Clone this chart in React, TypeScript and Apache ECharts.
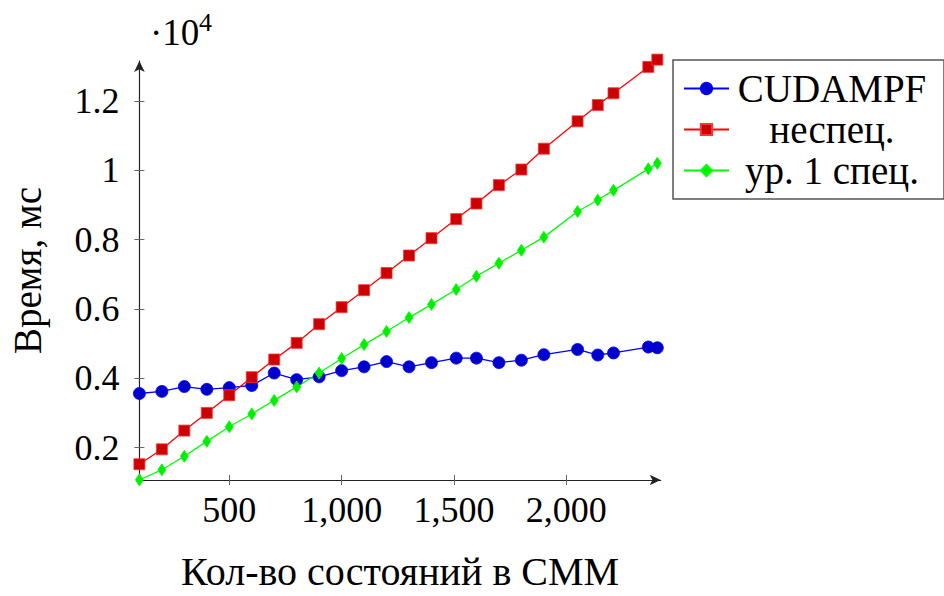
import React, { useEffect, useRef } from 'react';
import * as echarts from 'echarts';

const states = [100, 200, 300, 400, 500, 600, 700, 800, 900, 1000, 1100, 1200, 1300, 1400, 1510, 1600, 1700, 1800, 1900, 2050, 2140, 2210, 2365, 2405];
const cudampf = [3560, 3620, 3760, 3680, 3730, 3790, 4150, 3960, 4040, 4220, 4330, 4480, 4330, 4450, 4580, 4580, 4450, 4520, 4680, 4830, 4670, 4730, 4900, 4880];
const unspec = [1520, 1950, 2490, 3000, 3510, 4030, 4540, 5020, 5560, 6050, 6540, 7035, 7540, 8040, 8590, 9040, 9570, 10020, 10620, 11410, 11880, 12220, 12980, 13190];
const spec1 = [1070, 1360, 1750, 2180, 2600, 2970, 3360, 3750, 4150, 4570, 4970, 5350, 5750, 6130, 6560, 6940, 7320, 7690, 8070, 8810, 9140, 9420, 10040, 10200];
const seriesNames = ['CUDAMPF', 'неспец.', 'ур. 1 спец.'];
const xTicks = [500, 1000, 1500, 2000];
const yTicks = [2000, 4000, 6000, 8000, 10000, 12000];
const xMin = 100, xMax = 2420, yMin = 1065, yMax = 13150;

export default function App() {
  const ref = useRef<HTMLDivElement>(null);
  useEffect(() => {
    const chart = echarts.init(ref.current!, null, { renderer: 'svg' });
    const font = 'Liberation Serif';
    const pair = (ys: number[]) => states.map((x, i) => [x, ys[i]]);
    const tickStyle = { color: '#666', width: 1 };
    chart.setOption({
      animation: false,
      backgroundColor: '#fff',
      textStyle: { fontFamily: font, color: '#000' },
      grid: { left: 139.4, top: 61, width: 521.3, height: 429, containLabel: false },
      xAxis: [
        {
          type: 'value', min: xMin, max: xMax,
          axisLine: { show: true, lineStyle: { color: '#222', width: 1.2 }, symbol: ['none', 'arrow'], symbolSize: [8, 11] },
          axisTick: { show: true, customValues: xTicks, length: 5, lineStyle: tickStyle },
          axisLabel: { show: true, customValues: xTicks, formatter: (v: number) => v.toLocaleString('en-US'), fontSize: 36, fontFamily: font, color: '#000', margin: 12 },
          splitLine: { show: false },
          name: 'Кол-во состояний в СММ', nameLocation: 'middle', nameGap: 71,
          nameTextStyle: { fontSize: 40, fontFamily: font, color: '#000' },
        },
        {
          type: 'value', min: xMin, max: xMax, position: 'bottom', offset: 0,
          axisLine: { show: false },
          axisTick: { show: true, inside: true, customValues: xTicks, length: 5, lineStyle: tickStyle },
          axisLabel: { show: false },
          splitLine: { show: false },
        },
      ],
      yAxis: [
        {
          type: 'value', min: yMin, max: yMax,
          axisLine: { show: true, lineStyle: { color: '#222', width: 1.2 }, symbol: ['none', 'arrow'], symbolSize: [8, 11] },
          axisTick: { show: true, customValues: yTicks, length: 5, lineStyle: tickStyle },
          axisLabel: { show: true, customValues: yTicks, formatter: (v: number) => String(v / 10000), fontSize: 36, fontFamily: font, color: '#000', margin: 20 },
          splitLine: { show: false },
          name: 'Время, мс', nameLocation: 'middle', nameGap: 92, nameRotate: 90,
          nameTextStyle: { fontSize: 39, fontFamily: font, color: '#000' },
        },
        {
          type: 'value', min: yMin, max: yMax, position: 'left', offset: 0,
          axisLine: { show: false },
          axisTick: { show: true, inside: true, customValues: yTicks, length: 5, lineStyle: tickStyle },
          axisLabel: { show: false },
          splitLine: { show: false },
        },
      ],
      legend: {
        orient: 'vertical', left: 673, top: 60,
        padding: [9, 14, 9, 10], itemGap: 2, itemWidth: 45, itemHeight: 14,
        borderColor: '#555', borderWidth: 1.5, backgroundColor: '#fff',
        selectedMode: false,
        data: seriesNames,
        formatter: (name: string) => `{c|${name}}`,
        textStyle: {
          fontFamily: font, fontSize: 39, color: '#000', lineHeight: 36,
          rich: { c: { width: 196, align: 'center', fontSize: 39, fontFamily: font, lineHeight: 36, color: '#000' } },
        },
      },
      graphic: [
        { type: 'text', left: 150, top: 14, style: { text: '·10', fontSize: 37, fontFamily: font, fill: '#000' } },
        { type: 'text', left: 199, top: 9, style: { text: '4', fontSize: 26, fontFamily: font, fill: '#000' } },
      ],
      series: [
        {
          type: 'line', name: seriesNames[0], data: pair(cudampf), clip: false,
          symbol: 'circle', symbolSize: 12,
          lineStyle: { color: '#0000ff', width: 1.3 },
          itemStyle: { color: '#0000cc', borderColor: '#0000ff', borderWidth: 0.8 },
        },
        {
          type: 'line', name: seriesNames[1], data: pair(unspec), clip: false,
          symbol: 'rect', symbolSize: 11,
          lineStyle: { color: '#ff0000', width: 1.3 },
          itemStyle: { color: '#cc0000', borderColor: '#ff3333', borderWidth: 0.8 },
        },
        {
          type: 'line', name: seriesNames[2], data: pair(spec1), clip: false,
          symbol: 'diamond', symbolSize: [8, 12],
          lineStyle: { color: '#00ff00', width: 1.3 },
          itemStyle: { color: '#00ee00', borderColor: '#00ff00', borderWidth: 0.8 },
        },
      ],
    });
    return () => chart.dispose();
  }, []);
  return <div ref={ref} style={{ position: 'fixed', left: 0, top: 0, width: 944, height: 596, background: '#fff' }} />;
}
